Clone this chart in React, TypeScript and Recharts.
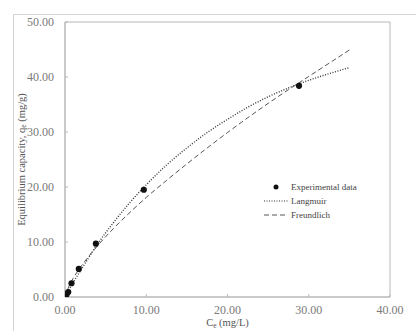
import React from "react";
import { ComposedChart, Line, Scatter, XAxis, YAxis, ReferenceArea } from "recharts";

// experimental points
const expCe = [0.1, 0.2, 0.4, 0.8, 1.7, 3.8, 9.7, 28.8];
const expQe = [0.2, 0.5, 0.9, 2.5, 5.1, 9.7, 19.5, 38.4];

// model curves
const curveCe = [0, 0.5, 1, 2, 4, 6, 8, 10, 12.5, 15, 17.5, 20, 22.5, 25, 27.5, 30, 32.5, 35];
const langmuirQe = [0, 1.3, 2.6, 5.0, 9.6, 13.6, 17.2, 20.4, 24.0, 27.1, 29.9, 32.3, 34.5, 36.4, 38.0, 39.4, 40.6, 41.7];
const freundlichQe = [0, 2.0, 3.4, 5.6, 9.3, 12.5, 15.4, 18.1, 21.2, 24.2, 27.1, 29.9, 32.6, 35.2, 37.7, 40.1, 42.5, 44.9];

const xTicks = [0, 10, 20, 30, 40];
const yTicks = [0, 10, 20, 30, 40, 50];

const expData = expCe.map((c, i) => ({ ce: c, qe: expQe[i] }));
const langData = curveCe.map((c, i) => ({ ce: c, qe: langmuirQe[i] }));
const freuData = curveCe.map((c, i) => ({ ce: c, qe: freundlichQe[i] }));

const FONT = "'Liberation Serif', 'DejaVu Serif', serif";
const AXIS_COLOR = "#b8b8b8";
const TICK = { fill: "#7a7a7a", fontSize: 12, fontFamily: FONT };

const YLabel = ({ viewBox }: any) => {
  const cy = viewBox.y + viewBox.height / 2;
  const cx = 21;
  return (
    <text x={cx} y={cy} transform={`rotate(-90 ${cx} ${cy})`} textAnchor="middle"
      dominantBaseline="central" fontFamily={FONT} fontSize={10.5} fill="#555">
      Equilibrium capacity, q<tspan fontSize={7.5} dy={2}>e</tspan><tspan dy={-2}> (mg/g)</tspan>
    </text>
  );
};

const XLabel = ({ viewBox }: any) => {
  const cx = viewBox.x + viewBox.width / 2;
  return (
    <text x={cx} y={326} textAnchor="middle" fontFamily={FONT} fontSize={10.5} fill="#555">
      C<tspan fontSize={7.5} dy={2}>e</tspan><tspan dy={-2}> (mg/L)</tspan>
    </text>
  );
};

const LegendBox = () => {
  const rows = [
    { name: "Experimental data", kind: "dot" },
    { name: "Langmuir", kind: "dotted" },
    { name: "Freundlich", kind: "dashed" },
  ];
  return (
    <div style={{ fontFamily: FONT, fontSize: 9, color: "#444" }}>
      {rows.map((r) => (
        <div key={r.name} style={{ display: "flex", alignItems: "center", height: 14 }}>
          <svg width={26} height={10} style={{ marginRight: 2 }}>
            {r.kind === "dot" && <circle cx={13} cy={5} r={2.5} fill="#111" />}
            {r.kind === "dotted" && <line x1={1} y1={5} x2={25} y2={5} stroke="#333" strokeWidth={1.2} strokeDasharray="1 1.5" />}
            {r.kind === "dashed" && <line x1={1} y1={5} x2={25} y2={5} stroke="#555" strokeWidth={1} strokeDasharray="5 3" />}
          </svg>
          <span>{r.name}</span>
        </div>
      ))}
    </div>
  );
};

export default function App() {
  return (
    <div style={{ position: "absolute", left: 0, top: 0, width: 416, height: 331, overflow: "hidden", background: "#fff" }}>
      <div style={{ position: "absolute", left: 13, top: 14, width: 410, height: 330, border: "1px solid #d4d4d4" }} />
      <div style={{ position: "absolute", left: 0, top: 0 }}>
        <ComposedChart width={416} height={331} margin={{ top: 22, right: 26, bottom: 0, left: 0 }}>
          <XAxis dataKey="ce" type="number" domain={[0, 40]} ticks={xTicks} allowDataOverflow
            tickFormatter={(v) => v.toFixed(2)} tick={TICK} height={34}
            stroke={AXIS_COLOR} tickSize={-3} tickMargin={11} label={<XLabel />} />
          <YAxis dataKey="qe" type="number" domain={[0, 50]} ticks={yTicks} allowDataOverflow
            tickFormatter={(v) => v.toFixed(2)} tick={TICK} width={65}
            stroke={AXIS_COLOR} tickSize={-3} tickMargin={14} label={<YLabel />} />
          <ReferenceArea x1={0} x2={40} y1={0} y2={50} fill="none" stroke={AXIS_COLOR} strokeOpacity={1} />
          <Line data={langData} dataKey="qe" name="Langmuir" type="monotone" stroke="#333"
            strokeWidth={1.4} strokeDasharray="1 1.6" dot={false} isAnimationActive={false} />
          <Line data={freuData} dataKey="qe" name="Freundlich" type="monotone" stroke="#555"
            strokeWidth={1} strokeDasharray="5 3" dot={false} isAnimationActive={false} />
          <Scatter data={expData} dataKey="qe" name="Experimental data" fill="#111"
            shape={(p: any) => <circle cx={p.cx} cy={p.cy} r={3.1} fill="#111" />}
            isAnimationActive={false} />
        </ComposedChart>
      </div>
      <div style={{ position: "absolute", left: 263, top: 180 }}>
        <LegendBox />
      </div>
    </div>
  );
}
